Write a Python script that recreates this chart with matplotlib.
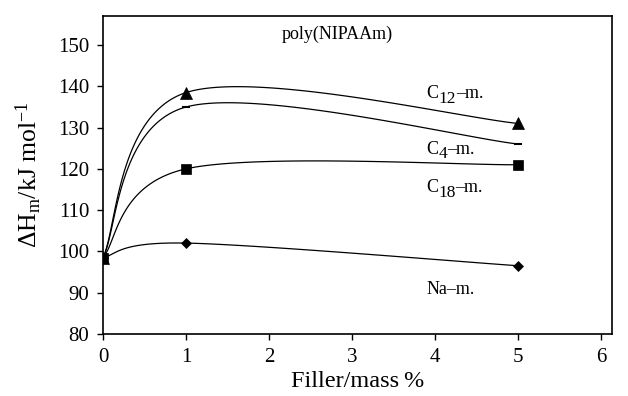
import numpy as np
import matplotlib
matplotlib.use("Agg")
import matplotlib.pyplot as plt

plt.rcParams['font.family'] = ['Liberation Serif', 'DejaVu Serif']
plt.rcParams['mathtext.fontset'] = 'custom'
plt.rcParams['mathtext.rm'] = 'Liberation Serif'
plt.rcParams['mathtext.it'] = 'Liberation Serif:italic'

# data
filler = [0, 1, 5]
c12_m = [98.5, 138.5, 131.0]
c4_m = [98.5, 135.0, 126.0]
c18_m = [98.5, 120.0, 121.0]
na_m = [98.5, 102.0, 96.5]

series = [
    (c12_m, '^', 8),
    (c4_m, '_', 6),
    (c18_m, 's', 7),
    (na_m, 'D', 5),
]

# curve labels: (main, subscript, rest, y)
labels = [
    ('C', '12', '–m.', 138.2),
    ('C', '4', '–m.', 124.8),
    ('C', '18', '–m.', 115.5),
    ('Na–m.', '', '', 90.7),
]


def smooth(xs, ys, sx=83.2, sy=4.12, n=60):
    """Excel-like smoothed line (Catmull-Rom Bezier in screen-like space)."""
    p = np.column_stack([np.asarray(xs, float) * sx, np.asarray(ys, float) * sy])
    pts = np.vstack([p[0], p, p[-1]])
    out = []
    t = np.linspace(0, 1, n)[:, None]
    for i in range(1, len(pts) - 2):
        p0, p1, p2, p3 = pts[i - 1], pts[i], pts[i + 1], pts[i + 2]
        c1 = p1 + (p2 - p0) / 6
        c2 = p2 - (p3 - p1) / 6
        b = ((1 - t) ** 3) * p1 + 3 * ((1 - t) ** 2) * t * c1 \
            + 3 * (1 - t) * t ** 2 * c2 + t ** 3 * p2
        out.append(b)
    b = np.vstack(out)
    return b[:, 0] / sx, b[:, 1] / sy


fig = plt.figure(figsize=(6.28, 3.96), dpi=100)
ax = fig.add_axes([0.164, 0.157, 0.811, 0.802])

for ys, mk, ms in series:
    sx_, sy_ = smooth(filler, ys)
    ax.plot(sx_, sy_, color='black', lw=0.9)
    ax.plot(filler, ys, linestyle='none', marker=mk, color='black',
            markersize=ms, markeredgewidth=1.5 if mk == '_' else 0.5)

ax.set_xlim(0, 6.13)
ax.set_ylim(80, 157)
ax.set_xticks(range(0, 7))
ax.set_yticks(range(80, 151, 10))
ax.tick_params(direction='out', length=4, width=1, labelsize=15, pad=6)
for s in ax.spines.values():
    s.set_linewidth(1.2)

ax.set_xlabel('Filler/mass\u2009%', fontsize=17.5, labelpad=3)
ax.set_ylabel(r'$\Delta$H$_\mathregular{m}$/kJ mol$^{-1}$', fontsize=18.5, labelpad=10)

ax.text(2.15, 152.5, 'poly(NIPAAm)', fontsize=13, va='center', ha='left')
for main, sub, rest, y in labels:
    t1 = ax.text(3.89, y, main, fontsize=13, va='center', ha='left')
    if sub:
        t2 = ax.annotate(sub, xy=(1, 0), xycoords=t1, xytext=(0, -3.5),
                         textcoords='offset points', fontsize=12.5,
                         va='bottom', ha='left')
        ax.annotate(rest, xy=(1, 0), xycoords=(t2, t1), fontsize=13,
                    va='bottom', ha='left')

fig.savefig('out.png', dpi=100)
